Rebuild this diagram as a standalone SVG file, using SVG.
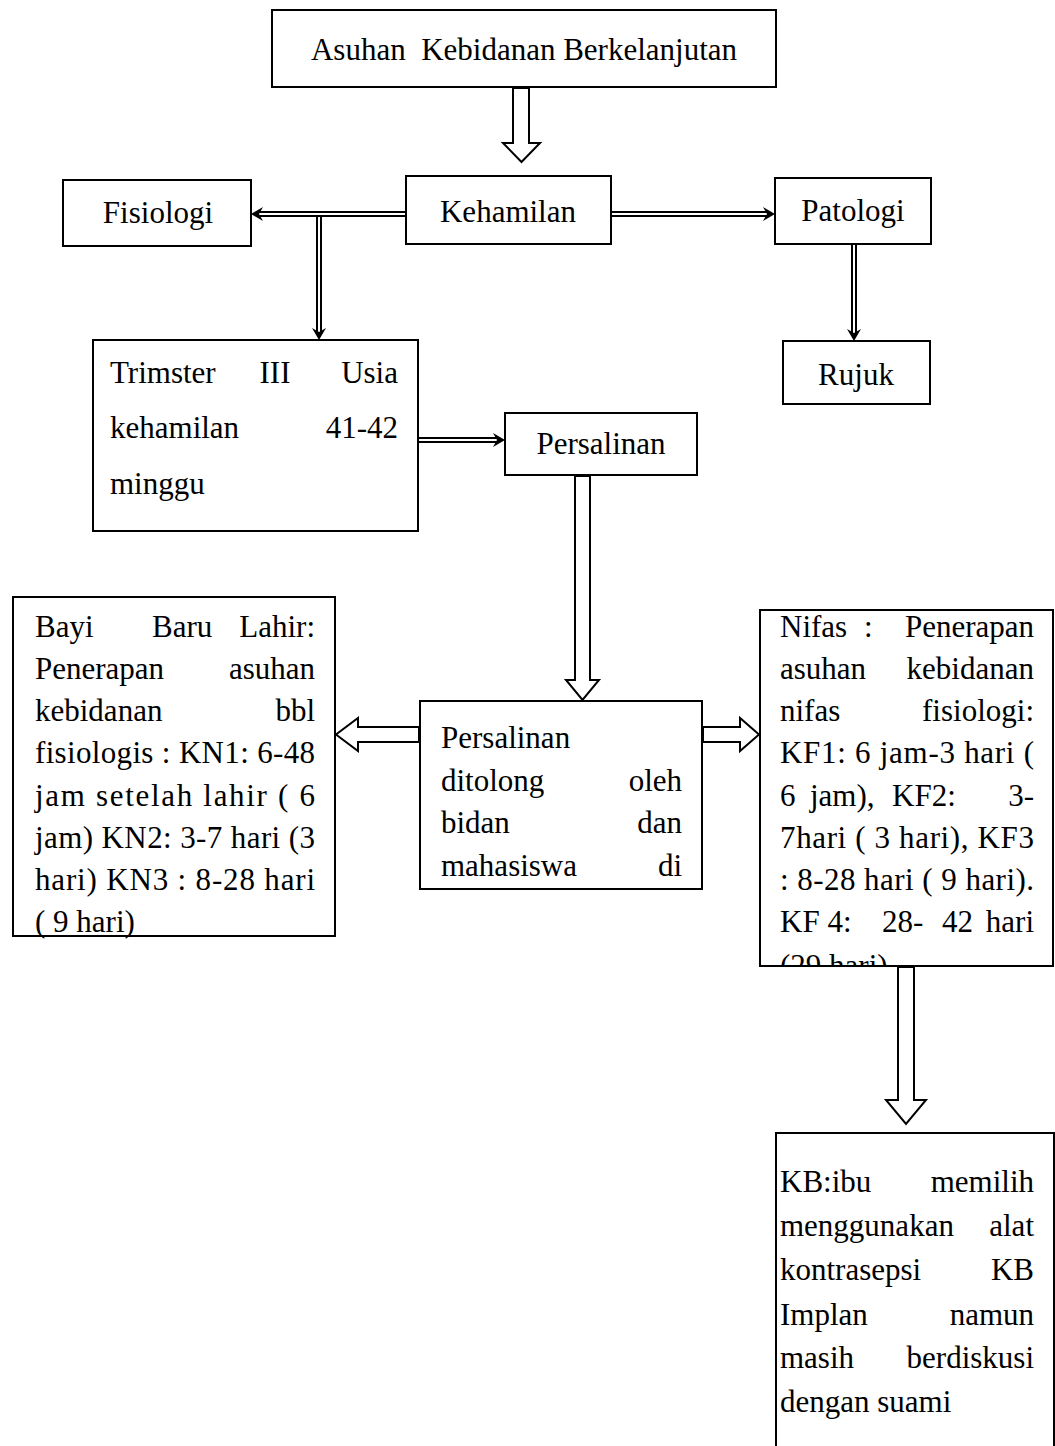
<svg xmlns="http://www.w3.org/2000/svg" width="1055" height="1446" viewBox="0 0 1055 1446">
<style>
.box{fill:#fff;stroke:#000;stroke-width:2}
.t{font-family:"Liberation Serif","Times New Roman",serif;font-size:31px;fill:#000}
.e{text-anchor:end}
.m{text-anchor:middle}
.hollow{fill:#fff;stroke:#000;stroke-width:2;stroke-linejoin:miter}
.dblo{stroke:#000;stroke-width:6;fill:none}
.dbli{stroke:#fff;stroke-width:2;fill:none}
.head{fill:#000;stroke:none}
</style>
<defs>
<clipPath id="clipNifas"><rect x="761" y="611" width="291" height="354"/></clipPath>
</defs>
<rect width="1055" height="1446" fill="#fff"/>

<g id="connectors">
  <polygon class="hollow" points="513,88 513,143 503,143 521.5,162 540,143 529,143 529,88"/>
  <line class="dblo" x1="406" y1="214" x2="258" y2="214"/>
  <line class="dbli" x1="406" y1="214" x2="256" y2="214"/>
  <path class="head" d="M251,214 L263,207 L259,214 L263,221 Z"/>
  <line class="dblo" x1="611" y1="214" x2="768" y2="214"/>
  <line class="dbli" x1="611" y1="214" x2="770" y2="214"/>
  <path class="head" d="M775,214 L763,207 L767,214 L763,221 Z"/>
  <line class="dblo" x1="319" y1="217" x2="319" y2="333"/>
  <line class="dbli" x1="319" y1="217" x2="319" y2="335"/>
  <path class="head" d="M319,340 L312,328 L319,332 L326,328 Z"/>
  <line class="dblo" x1="854" y1="245" x2="854" y2="334"/>
  <line class="dbli" x1="854" y1="245" x2="854" y2="336"/>
  <path class="head" d="M854,341 L847,329 L854,333 L861,329 Z"/>
  <line class="dblo" x1="419" y1="440" x2="498" y2="440"/>
  <line class="dbli" x1="419" y1="440" x2="500" y2="440"/>
  <path class="head" d="M505,440 L493,433 L497,440 L493,447 Z"/>
  <polygon class="hollow" points="575,476 575,680 566,680 582.5,700 599,680 590,680 590,476"/>
  <polygon class="hollow" points="419,727 358,727 358,718 336,734.5 358,751 358,742 419,742"/>
  <polygon class="hollow" points="703,727 740,727 740,718 759,734.5 740,751 740,742 703,742"/>
  <polygon class="hollow" points="898,967 898,1100 886,1100 906,1124 926,1100 914,1100 914,967"/>
</g>

<g id="node-asuhan">
  <rect class="box" x="272" y="10" width="504" height="77"/>
  <text class="t m" x="524" y="60" xml:space="preserve">Asuhan  Kebidanan Berkelanjutan</text>
</g>
<g id="node-kehamilan">
  <rect class="box" x="406" y="176" width="205" height="68"/>
  <text class="t m" x="508" y="222">Kehamilan</text>
</g>
<g id="node-fisiologi">
  <rect class="box" x="63" y="180" width="188" height="66"/>
  <text class="t m" x="158" y="223">Fisiologi</text>
</g>
<g id="node-patologi">
  <rect class="box" x="775" y="178" width="156" height="66"/>
  <text class="t m" x="853" y="221">Patologi</text>
</g>
<g id="node-rujuk">
  <rect class="box" x="783" y="341" width="147" height="63"/>
  <text class="t m" x="856" y="385">Rujuk</text>
</g>
<g id="node-trimster">
  <rect class="box" x="93" y="340" width="325" height="191"/>
  <text class="t" x="110" y="383">Trimster</text>
  <text class="t m" x="275" y="383">III</text>
  <text class="t e" x="398" y="383">Usia</text>
  <text class="t" x="110" y="438">kehamilan</text>
  <text class="t e" x="398" y="438">41-42</text>
  <text class="t" x="110" y="494">minggu</text>
</g>
<g id="node-persalinan">
  <rect class="box" x="505" y="413" width="192" height="62"/>
  <text class="t m" x="601" y="454">Persalinan</text>
</g>
<g id="node-ditolong">
  <rect class="box" x="420" y="701" width="282" height="188"/>
  <text class="t" x="441" y="748">Persalinan</text>
  <text class="t" x="441" y="791">ditolong</text>
  <text class="t e" x="682" y="791">oleh</text>
  <text class="t" x="441" y="833">bidan</text>
  <text class="t e" x="682" y="833">dan</text>
  <text class="t" x="441" y="876">mahasiswa</text>
  <text class="t e" x="682" y="876">di</text>
</g>
<g id="node-bbl">
  <rect class="box" x="13" y="597" width="322" height="339"/>
  <text class="t" x="35" y="637">Bayi</text>
  <text class="t" x="152" y="637">Baru</text>
  <text class="t e" x="315" y="637">Lahir:</text>
  <text class="t" x="35" y="679">Penerapan</text>
  <text class="t e" x="315" y="679">asuhan</text>
  <text class="t" x="35" y="721">kebidanan</text>
  <text class="t e" x="315" y="721">bbl</text>
  <text class="t" x="35" y="763" textLength="280" lengthAdjust="spacing">fisiologis : KN1: 6-48</text>
  <text class="t" x="35" y="806" textLength="280" lengthAdjust="spacing">jam setelah lahir ( 6</text>
  <text class="t" x="35" y="848" textLength="280" lengthAdjust="spacing">jam) KN2: 3-7 hari (3</text>
  <text class="t" x="35" y="890" textLength="280" lengthAdjust="spacing">hari) KN3 : 8-28 hari</text>
  <text class="t" x="35" y="932">( 9 hari)</text>
</g>
<g id="node-nifas">
  <rect class="box" x="760" y="610" width="293" height="356"/>
  <g clip-path="url(#clipNifas)">
    <text class="t" x="780" y="637">Nifas</text>
    <text class="t" x="864" y="637">:</text>
    <text class="t e" x="1034" y="637">Penerapan</text>
    <text class="t" x="780" y="679">asuhan</text>
    <text class="t e" x="1034" y="679">kebidanan</text>
    <text class="t" x="780" y="721">nifas</text>
    <text class="t e" x="1034" y="721">fisiologi:</text>
    <text class="t" x="780" y="763" textLength="254" lengthAdjust="spacing">KF1: 6 jam-3 hari (</text>
    <text class="t" x="780" y="806">6</text>
    <text class="t" x="810" y="806">jam),</text>
    <text class="t" x="892" y="806">KF2:</text>
    <text class="t e" x="1034" y="806">3-</text>
    <text class="t" x="780" y="848" textLength="254" lengthAdjust="spacing">7hari ( 3 hari), KF3</text>
    <text class="t" x="780" y="890" textLength="254" lengthAdjust="spacing">: 8-28 hari ( 9 hari).</text>
    <text class="t" x="780" y="932">KF 4:</text>
    <text class="t" x="882" y="932">28-</text>
    <text class="t" x="942" y="932">42</text>
    <text class="t e" x="1034" y="932">hari</text>
    <text class="t" x="780" y="976">(29 hari)</text>
  </g>
</g>
<g id="node-kb">
  <rect class="box" x="776" y="1133" width="278" height="330"/>
  <text class="t" x="780" y="1192">KB:ibu</text>
  <text class="t e" x="1034" y="1192">memilih</text>
  <text class="t" x="780" y="1236">menggunakan</text>
  <text class="t e" x="1034" y="1236">alat</text>
  <text class="t" x="780" y="1280">kontrasepsi</text>
  <text class="t e" x="1034" y="1280">KB</text>
  <text class="t" x="780" y="1325">Implan</text>
  <text class="t e" x="1034" y="1325">namun</text>
  <text class="t" x="780" y="1368">masih</text>
  <text class="t e" x="1034" y="1368">berdiskusi</text>
  <text class="t" x="780" y="1412">dengan suami</text>
</g>
</svg>
